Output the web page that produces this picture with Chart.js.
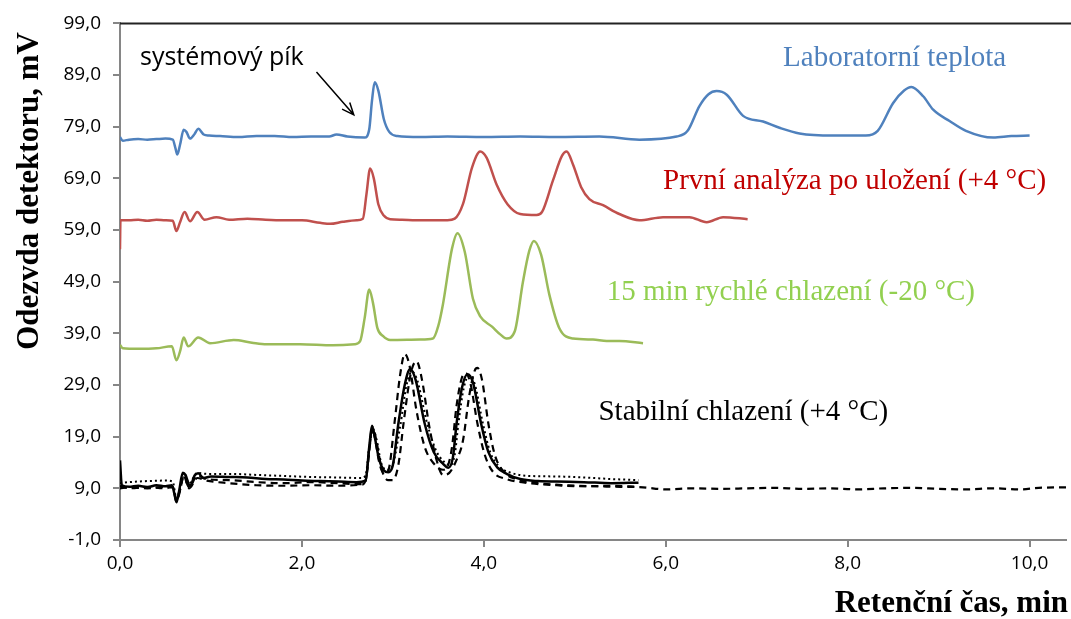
<!DOCTYPE html>
<html>
<head>
<meta charset="utf-8">
<script src="https://cdn.jsdelivr.net/npm/chart.js@4.4.0/dist/chart.umd.min.js"></script>
<style>
  body { margin: 0; background: #fff; }
  #wrap { width: 1071px; height: 619px; }
</style>
</head>
<body>
<div id="wrap"><canvas id="chromChart" width="1071" height="619"></canvas></div>
<script>
// Graduations des axes
var xTicks = [0, 2, 4, 6, 8, 10];
var xTickLabels = ["0,0", "2,0", "4,0", "6,0", "8,0", "10,0"];
var yTicks = [-1, 9, 19, 29, 39, 49, 59, 69, 79, 89, 99];
var yTickLabels = ["-1,0", "9,0", "19,0", "29,0", "39,0", "49,0", "59,0", "69,0", "79,0", "89,0", "99,0"];

// Laboratorní teplota (bleu)
var blueX = [0.00, 0.03, 0.10, 0.20, 0.30, 0.40, 0.50, 0.58, 0.61, 0.63, 0.66, 0.70, 0.73, 0.77, 0.82, 0.86, 0.92, 0.98, 1.10, 1.30, 1.50, 1.70, 1.90, 2.10, 2.30, 2.38, 2.50, 2.69, 2.74, 2.77, 2.80, 2.84, 2.90, 2.96, 3.05, 3.30, 3.60, 4.00, 4.40, 4.80, 5.27, 5.71, 6.12, 6.24, 6.37, 6.47, 6.56, 6.67, 6.85, 7.07, 7.25, 7.47, 7.84, 8.20, 8.33, 8.50, 8.62, 8.70, 8.83, 8.94, 9.12, 9.30, 9.60, 9.80, 10.00];
var blueY = [77.0, 76.3, 76.5, 76.6, 76.5, 76.6, 76.7, 76.5, 74.8, 73.6, 75.5, 78.4, 78.0, 76.7, 77.6, 78.6, 77.5, 77.3, 77.2, 77.0, 77.2, 77.2, 77.0, 77.1, 77.1, 77.5, 77.1, 76.9, 78.5, 84.0, 87.6, 86.0, 80.5, 78.0, 77.2, 77.0, 77.1, 77.0, 77.1, 77.0, 77.1, 76.5, 77.1, 78.2, 83.0, 85.3, 85.9, 85.2, 81.1, 80.0, 78.8, 77.7, 77.3, 77.3, 78.2, 83.6, 86.0, 86.7, 84.9, 82.3, 80.1, 78.2, 76.9, 77.2, 77.3];

// První analýza po uložení (rouge)
var redX = [0.000, 0.005, 0.10, 0.20, 0.30, 0.40, 0.50, 0.58, 0.62, 0.66, 0.71, 0.77, 0.85, 0.93, 1.06, 1.20, 1.40, 1.60, 1.80, 2.00, 2.20, 2.31, 2.45, 2.60, 2.67, 2.71, 2.75, 2.79, 2.84, 2.90, 2.97, 3.10, 3.25, 3.41, 3.60, 3.68, 3.77, 3.87, 3.96, 4.03, 4.14, 4.26, 4.40, 4.58, 4.64, 4.76, 4.86, 4.91, 4.98, 5.07, 5.16, 5.31, 5.49, 5.71, 5.97, 6.26, 6.45, 6.63, 6.90];
var redY = [55.3, 60.9, 60.9, 61.0, 60.8, 61.0, 60.9, 60.8, 58.8, 60.5, 62.5, 60.7, 62.5, 61.0, 61.5, 61.0, 61.2, 61.0, 60.9, 60.9, 60.4, 60.2, 60.6, 60.9, 61.2, 66.0, 70.9, 69.0, 64.0, 61.8, 61.1, 61.0, 60.9, 60.9, 60.9, 61.2, 64.0, 71.1, 74.2, 73.0, 67.8, 64.0, 62.1, 61.9, 62.5, 68.6, 73.4, 74.2, 71.7, 67.3, 65.0, 63.8, 62.1, 60.9, 61.5, 61.5, 60.5, 61.5, 61.1];

// 15 min rychlé chlazení (vert)
var greenX = [0.00, 0.03, 0.20, 0.40, 0.57, 0.62, 0.66, 0.70, 0.75, 0.86, 0.99, 1.25, 1.45, 1.61, 1.98, 2.34, 2.58, 2.64, 2.69, 2.74, 2.78, 2.83, 2.89, 2.97, 3.30, 3.44, 3.50, 3.55, 3.65, 3.71, 3.79, 3.88, 3.96, 4.09, 4.18, 4.25, 4.34, 4.43, 4.50, 4.55, 4.63, 4.72, 4.83, 4.98, 5.20, 5.35, 5.49, 5.75];
var greenY = [36.8, 36.1, 36.0, 36.1, 36.5, 33.8, 35.5, 38.2, 36.5, 38.2, 37.1, 37.7, 37.2, 36.9, 36.9, 36.7, 36.9, 37.5, 42.0, 47.5, 45.0, 40.0, 38.5, 37.7, 37.8, 38.0, 40.5, 44.6, 55.4, 58.4, 54.8, 45.7, 42.3, 40.3, 38.8, 38.0, 39.4, 49.0, 55.0, 56.9, 54.2, 46.5, 40.0, 38.0, 37.8, 37.5, 37.5, 37.1];

// Stabilní chlazení : trait plein
var blackSolidX = [0.00, 0.02, 0.10, 0.20, 0.30, 0.40, 0.50, 0.57, 0.60, 0.62, 0.65, 0.69, 0.72, 0.77, 0.82, 0.86, 0.92, 1.00, 1.20, 1.40, 1.60, 1.80, 2.00, 2.20, 2.40, 2.60, 2.70, 2.74, 2.77, 2.80, 2.85, 2.90, 2.95, 3.00, 3.06, 3.13, 3.19, 3.25, 3.35, 3.45, 3.55, 3.61, 3.66, 3.70, 3.76, 3.82, 3.88, 3.97, 4.05, 4.15, 4.25, 4.40, 4.60, 4.80, 5.10, 5.40, 5.70];
var blackSolidY = [14.4, 9.6, 9.3, 9.5, 9.2, 9.6, 9.4, 9.6, 7.8, 6.3, 8.5, 12.0, 11.6, 9.4, 11.5, 11.9, 11.0, 11.3, 11.2, 11.1, 10.8, 10.7, 10.5, 10.4, 10.3, 10.2, 10.5, 17.0, 21.1, 19.0, 14.5, 12.5, 12.1, 13.5, 21.5, 29.0, 32.1, 30.0, 21.5, 16.0, 13.8, 13.0, 15.0, 21.5, 28.5, 31.1, 29.5, 21.5, 16.0, 13.0, 11.8, 10.8, 10.4, 10.3, 10.2, 10.0, 10.1];

// Stabilní chlazení : pointillé
var blackDotX = [0.00, 0.10, 0.30, 0.50, 0.58, 0.62, 0.66, 0.70, 0.76, 0.85, 0.95, 1.20, 1.50, 1.80, 2.10, 2.40, 2.65, 2.70, 2.74, 2.78, 2.82, 2.87, 2.93, 2.98, 3.08, 3.15, 3.21, 3.27, 3.37, 3.47, 3.57, 3.63, 3.68, 3.72, 3.78, 3.84, 3.90, 3.99, 4.07, 4.17, 4.30, 4.50, 4.80, 5.10, 5.40, 5.70];
var blackDotY = [10.0, 10.2, 10.4, 10.5, 10.3, 7.0, 9.0, 12.0, 10.0, 12.0, 11.8, 11.8, 11.6, 11.4, 11.2, 11.1, 11.0, 11.5, 17.0, 20.5, 18.5, 14.0, 12.6, 12.8, 21.0, 29.0, 31.6, 29.8, 22.0, 16.5, 14.0, 13.5, 15.5, 21.5, 28.5, 30.8, 29.2, 21.5, 16.0, 13.2, 12.0, 11.4, 11.3, 11.1, 10.8, 10.6];

// Stabilní chlazení : tirets (décalé à gauche)
var blackDashAX = [0.00, 0.10, 0.30, 0.50, 0.58, 0.62, 0.66, 0.70, 0.76, 0.85, 0.95, 1.20, 1.50, 1.80, 2.10, 2.40, 2.65, 2.70, 2.74, 2.77, 2.80, 2.85, 2.90, 2.95, 3.02, 3.08, 3.13, 3.18, 3.26, 3.35, 3.45, 3.55, 3.60, 3.65, 3.70, 3.76, 3.80, 3.85, 3.93, 4.01, 4.10, 4.25, 4.50, 4.80, 5.10, 5.40, 5.70];
var blackDashAY = [9.0, 9.2, 9.0, 9.3, 9.2, 6.5, 8.5, 11.5, 9.0, 11.0, 10.5, 10.0, 9.6, 9.5, 9.6, 9.5, 9.7, 10.5, 16.0, 20.5, 19.0, 14.0, 12.0, 12.5, 22.0, 31.0, 35.0, 33.0, 24.0, 17.0, 13.8, 12.6, 13.2, 17.0, 25.0, 30.5, 31.3, 29.5, 21.5, 15.5, 12.2, 10.8, 10.0, 9.6, 9.4, 9.5, 9.3];

// Stabilní chlazení : tirets (décalé à droite, jusqu'à la fin)
var blackDashBX = [0.00, 0.10, 0.30, 0.50, 0.58, 0.62, 0.66, 0.70, 0.76, 0.85, 0.95, 1.20, 1.50, 1.80, 2.10, 2.40, 2.65, 2.70, 2.74, 2.78, 2.82, 2.88, 2.95, 3.00, 3.06, 3.12, 3.20, 3.26, 3.32, 3.40, 3.48, 3.55, 3.62, 3.70, 3.77, 3.84, 3.90, 3.93, 3.98, 4.05, 4.12, 4.22, 4.35, 4.60, 4.90, 5.20, 5.50, 5.75, 6.00, 6.30, 6.60, 6.90, 7.20, 7.50, 7.80, 8.10, 8.40, 8.70, 9.00, 9.30, 9.60, 9.90, 10.10, 10.40];
var blackDashBY = [9.5, 9.0, 9.3, 9.0, 9.3, 6.8, 8.7, 11.2, 9.2, 11.5, 10.8, 10.6, 10.2, 10.0, 10.2, 10.0, 9.8, 10.5, 16.5, 20.8, 18.0, 12.5, 10.6, 10.6, 13.5, 22.0, 31.5, 33.6, 30.0, 21.0, 14.5, 11.6, 12.0, 14.5, 18.2, 27.0, 31.8, 32.3, 30.0, 21.5, 15.5, 12.2, 10.8, 10.0, 9.6, 9.4, 9.3, 9.2, 8.8, 9.0, 8.9, 9.0, 9.1, 8.9, 9.0, 8.8, 9.0, 9.1, 8.9, 8.8, 9.0, 8.8, 9.1, 9.2];

function toPoints(xs, ys) {
    return xs.map(function (x, i) { return { x: x, y: ys[i] }; });
}

function serie(xs, ys, color, width, dash) {
    return {
        data: toPoints(xs, ys),
        borderColor: color,
        borderWidth: width,
        borderDash: dash || [],
        pointRadius: 0,
        fill: false,
        cubicInterpolationMode: 'monotone'
    };
}

// Textes posés dans le graphique (coordonnées en unités de données)
var notes = [
    { text: "systémový pík", x: 0.22, y: 90.9, font: "25px 'Open Sans'", color: "#000" },
    { text: "Laboratorní teplota", x: 7.29, y: 90.7, font: "29px 'Liberation Serif'", color: "#4F81BD" },
    { text: "První analýza po uložení (+4 °C)", x: 5.97, y: 66.9, font: "29px 'Liberation Serif'", color: "#C00000" },
    { text: "15 min rychlé chlazení (-20 °C)", x: 5.35, y: 45.5, font: "29px 'Liberation Serif'", color: "#92D050" },
    { text: "Stabilní chlazení (+4 °C)", x: 5.26, y: 22.3, font: "29px 'Liberation Serif'", color: "#000" }
];

var decor = {
    id: 'decor',
    afterDraw: function (chart) {
        var ctx = chart.ctx;
        var sx = chart.scales.x, sy = chart.scales.y;
        var area = chart.chartArea;
        ctx.save();
        // bordure du haut
        ctx.strokeStyle = '#222';
        ctx.lineWidth = 2;
        ctx.beginPath();
        ctx.moveTo(area.left, area.top);
        ctx.lineTo(chart.width, area.top);
        ctx.stroke();

        notes.forEach(function (n) {
            ctx.font = n.font;
            ctx.fillStyle = n.color;
            ctx.textAlign = 'left';
            ctx.textBaseline = 'alphabetic';
            ctx.fillText(n.text, sx.getPixelForValue(n.x), sy.getPixelForValue(n.y));
        });

        // flèche vers le pic système
        var x1 = sx.getPixelForValue(2.16), y1 = sy.getPixelForValue(89.6);
        var x2 = sx.getPixelForValue(2.57), y2 = sy.getPixelForValue(81.3);
        var a = Math.atan2(y2 - y1, x2 - x1);
        ctx.strokeStyle = '#000';
        ctx.lineWidth = 1.5;
        ctx.beginPath();
        ctx.moveTo(x1, y1);
        ctx.lineTo(x2, y2);
        ctx.moveTo(x2 - 13 * Math.cos(a - 0.4), y2 - 13 * Math.sin(a - 0.4));
        ctx.lineTo(x2, y2);
        ctx.lineTo(x2 - 13 * Math.cos(a + 0.4), y2 - 13 * Math.sin(a + 0.4));
        ctx.stroke();

        // titres des axes
        ctx.fillStyle = '#000';
        ctx.font = "bold 31px 'Liberation Serif'";
        ctx.textAlign = 'right';
        ctx.textBaseline = 'alphabetic';
        ctx.fillText("Retenční čas, min", 1068, 612);
        ctx.translate(30, 191);
        ctx.rotate(-Math.PI / 2);
        ctx.textAlign = 'center';
        ctx.textBaseline = 'middle';
        ctx.fillText("Odezvda detektoru, mV", 0, 0);
        ctx.restore();
    }
};

var ctx = document.getElementById('chromChart').getContext('2d');
var chromChart = new Chart(ctx, {
    type: 'line',
    data: {
        datasets: [
            serie(blueX, blueY, '#4F81BD', 2.5),
            serie(redX, redY, '#C0504D', 2.5),
            serie(greenX, greenY, '#9BBB59', 2.5),
            serie(blackDotX, blackDotY, '#000', 2, [2, 3]),
            serie(blackDashAX, blackDashAY, '#000', 2.2, [7, 5]),
            serie(blackDashBX, blackDashBY, '#000', 2.2, [7, 5]),
            serie(blackSolidX, blackSolidY, '#000', 2.5)
        ]
    },
    plugins: [decor],
    options: {
        responsive: false,
        animation: false,
        layout: { padding: { top: 20, right: 5, left: 0, bottom: 0 } },
        plugins: { legend: { display: false }, tooltip: { enabled: false } },
        scales: {
            x: {
                type: 'linear',
                min: 0,
                max: 10.4,
                afterBuildTicks: function (s) { s.ticks = xTicks.map(function (v) { return { value: v }; }); },
                afterFit: function (s) { s.height = 79; },
                ticks: {
                    autoSkip: false,
                    maxRotation: 0,
                    padding: 5,
                    color: '#000',
                    font: { family: 'Open Sans', size: 19 },
                    callback: function (v, i) { return xTickLabels[i]; }
                },
                grid: { drawOnChartArea: false, tickLength: 7, color: '#868686', lineWidth: 2 },
                border: { color: '#868686', width: 2 }
            },
            y: {
                min: -1,
                max: 99,
                afterBuildTicks: function (s) { s.ticks = yTicks.map(function (v) { return { value: v }; }); },
                afterFit: function (s) { s.width = 120; },
                ticks: {
                    autoSkip: false,
                    padding: 12,
                    color: '#000',
                    font: { family: 'Open Sans', size: 19 },
                    callback: function (v, i) { return yTickLabels[i]; }
                },
                grid: { drawOnChartArea: false, tickLength: 7, color: '#868686', lineWidth: 2 },
                border: { color: '#868686', width: 2 }
            }
        }
    }
});
</script>
</body>
</html>
